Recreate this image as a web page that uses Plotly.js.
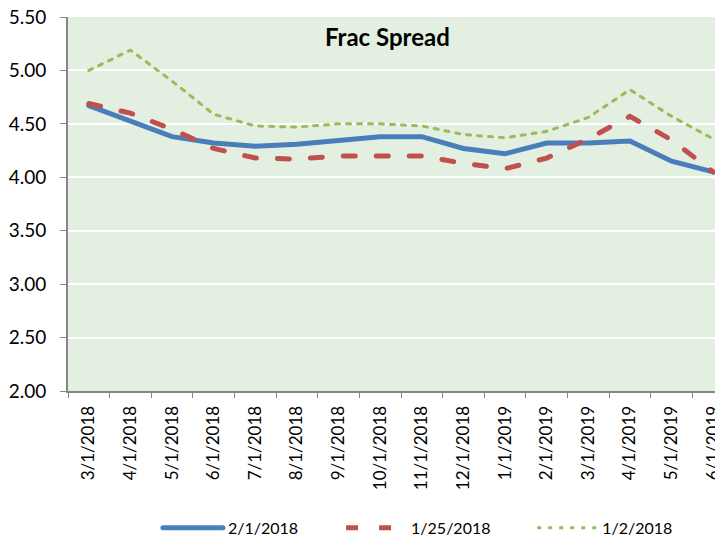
<!DOCTYPE html>
<html>
<head>
<meta charset="utf-8">
<script src="https://cdn.plot.ly/plotly-3.0.1.min.js"></script>
<style>
html, body { margin: 0; padding: 0; overflow: hidden; background: #fff; }
#chart { width: 740px; height: 538px; }
.scatterlayer path.js-line { stroke-linecap: round; }
.legend path.js-line { stroke-linecap: round; }
</style>
</head>
<body>
<div id="chart"></div>
<script>
const categories = ["3/1/2018","4/1/2018","5/1/2018","6/1/2018","7/1/2018","8/1/2018","9/1/2018","10/1/2018","11/1/2018","12/1/2018","1/1/2019","2/1/2019","3/1/2019","4/1/2019","5/1/2019","6/1/2019"];
const series1Name = "2/1/2018";
const series1 = [4.67, 4.53, 4.38, 4.32, 4.29, 4.31, 4.35, 4.38, 4.38, 4.27, 4.22, 4.32, 4.32, 4.34, 4.15, 4.05];
const series2Name = "1/25/2018";
const series2 = [4.69, 4.60, 4.45, 4.27, 4.18, 4.17, 4.20, 4.20, 4.20, 4.13, 4.08, 4.18, 4.36, 4.57, 4.35, 4.05];
const series3Name = "1/2/2018";
const series3 = [5.00, 5.19, 4.90, 4.59, 4.48, 4.47, 4.50, 4.50, 4.48, 4.40, 4.37, 4.43, 4.56, 4.82, 4.57, 4.36];
const yTicks = [2.0, 2.5, 3.0, 3.5, 4.0, 4.5, 5.0, 5.5];

const font = "Lato, 'Open Sans', sans-serif";

const traces = [
  {x: categories, y: series1, name: series1Name, type: "scatter", mode: "lines", legend: "legend",
   line: {color: "#4A7EBB", width: 5}},
  {x: categories, y: series2, name: series2Name, type: "scatter", mode: "lines", legend: "legend2",
   line: {color: "#C0504D", width: 5, dash: "12px,21px"}},
  {x: categories, y: series3, name: series3Name, type: "scatter", mode: "lines", legend: "legend3",
   line: {color: "#9BBB59", width: 3, dash: "4px,7px"}}
];

function legendAt(x) {
  return {orientation: "h", x: x, xanchor: "left",
          yref: "container", y: 0.019, yanchor: "middle",
          font: {family: font, size: 16, color: "#000"},
          itemwidth: 60, bgcolor: "rgba(0,0,0,0)"};
}

const layout = {
  width: 740, height: 538,
  margin: {l: 68, r: 6, t: 17, b: 147},
  paper_bgcolor: "#ffffff",
  plot_bgcolor: "#E3F0E1",
  font: {family: font, size: 16, color: "#000"},
  showlegend: true,
  legend: legendAt(0.135),
  legend2: legendAt(0.41),
  legend3: legendAt(0.697),
  xaxis: {type: "category", range: [-0.5, 15.5], autorange: false, tickangle: -90,
          showgrid: false, showline: true,
          linecolor: "#868686", linewidth: 2, ticks: "outside", tickson: "boundaries",
          ticklen: 5, tickcolor: "#868686", tickwidth: 1, ticklabelstandoff: 6,
          tickfont: {family: font, size: 17, color: "#000"}, fixedrange: true},
  yaxis: {range: [2.0, 5.5], autorange: false, tickvals: yTicks, ticktext: yTicks.map(v => v.toFixed(2)),
          showgrid: true, gridcolor: "#ffffff", gridwidth: 2, zeroline: false,
          showline: true, linecolor: "#868686", linewidth: 2, ticks: "outside",
          ticklen: 6, tickcolor: "#868686", tickwidth: 1, ticklabelstandoff: 10,
          tickfont: {family: font, size: 19, color: "#000"}, fixedrange: true},
  annotations: [{text: "<b>Frac Spread</b>", xref: "paper", yref: "paper",
                 x: 0.48, y: 0.948, xanchor: "center", yanchor: "middle", showarrow: false,
                 font: {family: font, size: 24, color: "#000"}}]
};

Plotly.newPlot("chart", traces, layout, {displayModeBar: false, staticPlot: true});
</script>
</body>
</html>
